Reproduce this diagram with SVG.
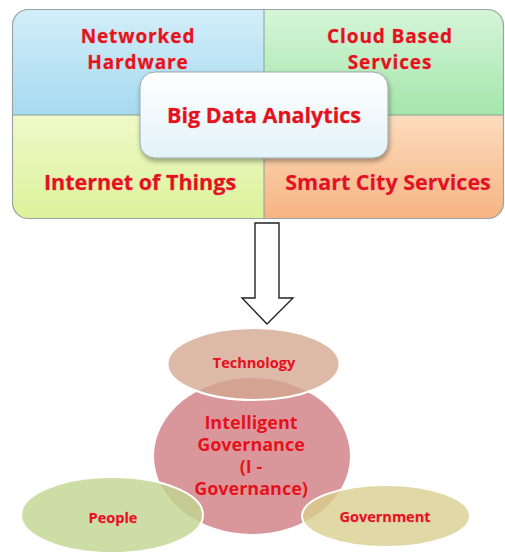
<svg xmlns="http://www.w3.org/2000/svg" width="505" height="553" viewBox="0 0 505 553">
<style>
.t{font-family:"Open Sans","Liberation Sans",sans-serif;font-weight:bold;fill:#e3121d;text-anchor:middle;stroke:#f3a0a0;stroke-width:0.6;paint-order:stroke}
.big{font-size:21.5px}
.two{font-size:19px;letter-spacing:0.9px}
.mid{font-size:18px}
.sm{font-size:14.5px}
</style>
<defs>
<linearGradient id="gTL" x1="0" y1="0" x2="0" y2="1"><stop offset="0" stop-color="#d3eef9"/><stop offset="1" stop-color="#a6daf0"/></linearGradient>
<linearGradient id="gTR" x1="0" y1="0" x2="0" y2="1"><stop offset="0" stop-color="#d6f5d8"/><stop offset="1" stop-color="#a4e6ab"/></linearGradient>
<linearGradient id="gBL" x1="0" y1="0" x2="0" y2="1"><stop offset="0" stop-color="#f0f9c8"/><stop offset="1" stop-color="#dbf29a"/></linearGradient>
<linearGradient id="gBR" x1="0" y1="0" x2="0" y2="1"><stop offset="0" stop-color="#fcdcbd"/><stop offset="1" stop-color="#f6b482"/></linearGradient>
<linearGradient id="gC" x1="0" y1="0" x2="0" y2="1"><stop offset="0" stop-color="#ffffff"/><stop offset="1" stop-color="#e2f3f8"/></linearGradient>
<clipPath id="box"><rect x="12" y="9" width="492" height="210" rx="16"/></clipPath>
<filter id="sh" x="-10%" y="-10%" width="120%" height="130%"><feDropShadow dx="1" dy="3" stdDeviation="2.5" flood-color="#000" flood-opacity="0.35"/></filter>
</defs>
<g id="quadrants">
<g clip-path="url(#box)">
<rect x="12" y="9" width="252" height="106" fill="url(#gTL)"/>
<rect x="264" y="9" width="240" height="106" fill="url(#gTR)"/>
<rect x="12" y="115" width="252" height="104" fill="url(#gBL)"/>
<rect x="264" y="115" width="240" height="104" fill="url(#gBR)"/>
<line x1="264" y1="9" x2="264" y2="219" stroke="#8e9e9a" stroke-width="1"/>
<line x1="12" y1="115" x2="504" y2="115" stroke="#8e9e9a" stroke-width="1"/>
</g>
<rect x="12.5" y="9.5" width="491" height="209" rx="16" fill="none" stroke="#9aa4a4" stroke-width="1.2"/>
</g>
<g id="networked-hardware"><text class="t two" x="138" y="43">Networked</text><text class="t two" x="138" y="69">Hardware</text></g>
<g id="cloud-based-services"><text class="t two" x="390" y="43">Cloud Based</text><text class="t two" x="390" y="69">Services</text></g>
<g id="internet-of-things"><text class="t big" x="140" y="190">Internet of Things</text></g>
<g id="smart-city-services"><text class="t big" x="388" y="190">Smart City Services</text></g>
<g id="big-data-analytics">
<rect x="140" y="72" width="248" height="86" rx="15" fill="url(#gC)" stroke="#9aa8ac" stroke-width="1" filter="url(#sh)"/>
<text class="t big" x="264" y="123">Big Data Analytics</text>
</g>
<g id="connectors">
<polygon points="255,223 279,223 279,298 293,298 267,324 242,298 255,298" fill="#fff" stroke="#222" stroke-width="1.4" stroke-linejoin="miter"/>
</g>
<g id="intelligent-governance">
<ellipse cx="252" cy="456" rx="98" ry="78" fill="#d9979b"/>
</g>
<g id="technology">
<ellipse cx="253.5" cy="364" rx="86" ry="36" fill="#d3a78e" fill-opacity="0.78" stroke="#fff" stroke-width="2"/>
<text class="t sm" x="254" y="368">Technology</text>
</g>
<g id="people">
<ellipse cx="112" cy="515" rx="91" ry="38" fill="#bfd690" fill-opacity="0.8" stroke="#fff" stroke-width="2"/>
<text class="t sm" x="113" y="523">People</text>
</g>
<g id="government">
<ellipse cx="386" cy="516" rx="84" ry="31" fill="#d8d08f" fill-opacity="0.8" stroke="#fff" stroke-width="2"/>
<text class="t sm" x="385" y="522">Government</text>
</g>
<g id="intelligent-governance-label">
<text class="t mid" x="251" y="429">Intelligent</text>
<text class="t mid" x="251" y="451">Governance</text>
<text class="t mid" x="251" y="473">(I -</text>
<text class="t mid" x="251" y="495">Governance)</text>
</g>
</svg>
